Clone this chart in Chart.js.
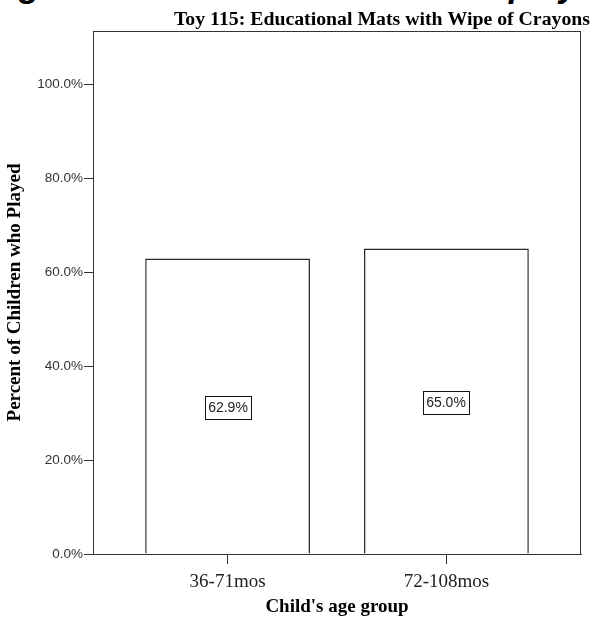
<!DOCTYPE html>
<html>
<head>
<meta charset="utf-8">
<script src="https://cdn.jsdelivr.net/npm/chart.js@4"></script>
<style>
  body { margin: 0; background: #fff; overflow: hidden; }
  #wrap { position: relative; width: 594px; height: 620px; overflow: hidden; }
  #bigTitle {
    position: absolute; left: -127px; top: -32px; white-space: nowrap;
    font: italic bold 34.6px "Liberation Sans", Arial, sans-serif; line-height: 1; color: #000;
  }
  canvas { position: absolute; left: 0; top: 0; }
</style>
</head>
<body>
<div id="wrap">
  <div id="bigTitle">Percentage of Children who have ever played by Age</div>
  <canvas id="chart" width="594" height="620"></canvas>
</div>
<script>
const categories = ["36-71mos", "72-108mos"];
const positions = [1, 2];
const percentPlayed = [62.9, 65.0];
const yTicks = [0, 20, 40, 60, 80, 100];
const chartTitle = "Toy 115: Educational Mats with Wipe of Crayons";

const dark = "#333";

// frame around the plot, boxed value labels and the top title
const extras = {
  id: "extras",
  afterDatasetsDraw(chart) {
    const { ctx, chartArea } = chart;
    ctx.save();
    ctx.strokeStyle = dark;
    ctx.lineWidth = 1;
    ctx.strokeRect(chartArea.left + 0.5, chartArea.top + 0.5,
      chartArea.right - chartArea.left - 1, chartArea.bottom - chartArea.top);

    ctx.font = '14px "Liberation Sans", Arial, sans-serif';
    ctx.textAlign = "center";
    ctx.textBaseline = "middle";
    chart.getDatasetMeta(0).data.forEach((bar, i) => {
      const txt = percentPlayed[i].toFixed(1) + "%";
      const w = ctx.measureText(txt).width + 6;
      const h = 23;
      const cx = Math.round(bar.x);
      const cy = Math.round((bar.y + bar.base) / 2) + 1;
      ctx.fillStyle = "#fff";
      ctx.fillRect(cx - w / 2, cy - h / 2, w, h);
      ctx.strokeStyle = "#111";
      ctx.strokeRect(Math.round(cx - w / 2) + 0.5, Math.round(cy - h / 2) + 0.5, Math.round(w), h);
      ctx.fillStyle = "#222";
      ctx.fillText(txt, cx, cy + 1);
    });

    ctx.font = 'bold 19.8px "Liberation Serif", "Times New Roman", serif';
    ctx.textAlign = "right";
    ctx.textBaseline = "alphabetic";
    ctx.fillStyle = "#000";
    ctx.fillText(chartTitle, 590, 25);
    ctx.restore();
  }
};

new Chart(document.getElementById("chart"), {
  type: "bar",
  data: {
    datasets: [{
      data: positions.map((p, i) => ({ x: p, y: percentPlayed[i] })),
      backgroundColor: "#fff",
      borderColor: "#2a2a2a",
      borderWidth: 1.5,
      barPercentage: 0.753,
      categoryPercentage: 1
    }]
  },
  options: {
    responsive: false,
    animation: false,
    layout: { padding: { top: 31, right: 13, left: 0, bottom: 0 } },
    plugins: {
      legend: { display: false },
      tooltip: { enabled: false },
      title: { display: false }
    },
    scales: {
      x: {
        type: "linear",
        min: 0.385,
        max: 2.615,
        offset: false,
        afterBuildTicks: (s) => { s.ticks = positions.map((v) => ({ value: v })); },
        afterFit: (s) => { s.height = 66; },
        grid: { drawOnChartArea: false, offset: false, tickLength: 10, color: dark },
        border: { color: dark },
        ticks: {
          padding: 7,
          color: "#222",
          font: { family: '"Liberation Serif", "Times New Roman", serif', size: 19 },
          callback: (v) => categories[positions.indexOf(v)]
        },
        title: {
          display: true,
          text: "Child's age group",
          color: "#000",
          padding: { top: 0, bottom: 2 },
          font: { family: '"Liberation Serif", "Times New Roman", serif', size: 19, weight: "bold" }
        }
      },
      y: {
        min: 0,
        max: 111.3,
        afterBuildTicks: (s) => { s.ticks = yTicks.map((v) => ({ value: v })); },
        afterFit: (s) => { s.width = 93; },
        grid: { drawOnChartArea: false, tickLength: 9, color: dark },
        border: { color: dark },
        ticks: {
          padding: 1,
          color: "#333",
          font: { family: '"Liberation Sans", Arial, sans-serif', size: 13.5 },
          callback: (v) => v.toFixed(1) + "%"
        },
        title: {
          display: true,
          text: "Percent of Children who Played",
          color: "#000",
          padding: { top: 4, bottom: 0 },
          font: { family: '"Liberation Serif", "Times New Roman", serif', size: 19, weight: "bold" }
        }
      }
    }
  },
  plugins: [extras]
});
</script>
</body>
</html>
